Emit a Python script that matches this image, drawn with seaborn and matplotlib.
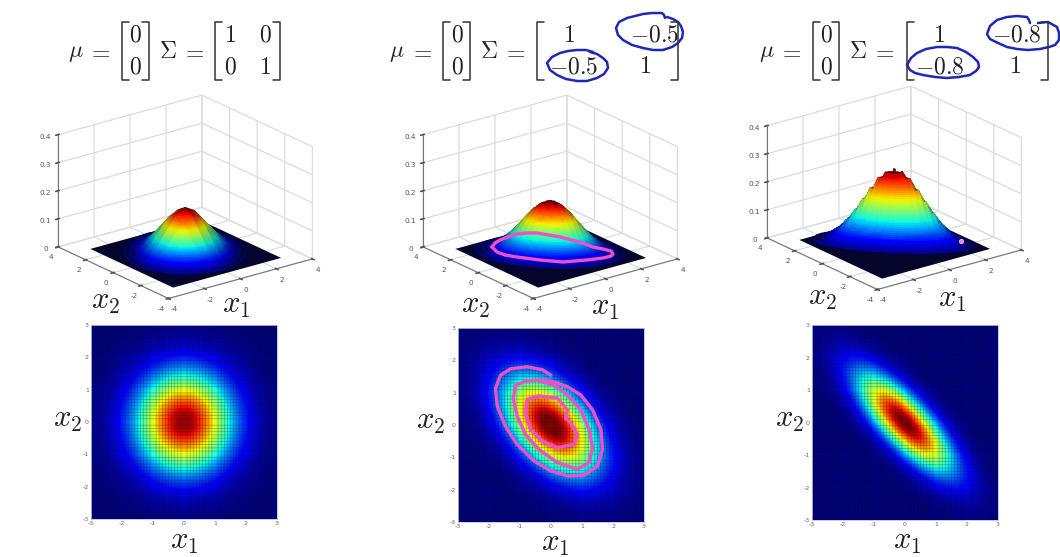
import numpy as np
import matplotlib
matplotlib.use("Agg")
import matplotlib.pyplot as plt
import seaborn as sns

W, H = 1060, 557

# density x 1000, read by eye, top row is x2 = 3, x1 runs from -3 to 3
density_a = [
    [0, 0, 0, 1, 1, 2, 2, 2, 1, 1, 0, 0, 0],
    [0, 0, 1, 2, 4, 6, 7, 6, 4, 2, 1, 0, 0],
    [0, 1, 3, 7, 13, 19, 22, 19, 13, 7, 3, 1, 0],
    [1, 2, 7, 17, 31, 46, 52, 46, 31, 17, 7, 2, 1],
    [1, 4, 13, 31, 59, 85, 96, 85, 59, 31, 13, 4, 1],
    [2, 6, 19, 46, 85, 124, 140, 124, 85, 46, 19, 6, 2],
    [2, 7, 22, 52, 96, 140, 159, 140, 96, 52, 22, 7, 2],
    [2, 6, 19, 46, 85, 124, 140, 124, 85, 46, 19, 6, 2],
    [1, 4, 13, 31, 59, 85, 96, 85, 59, 31, 13, 4, 1],
    [1, 2, 7, 17, 31, 46, 52, 46, 31, 17, 7, 2, 1],
    [0, 1, 3, 7, 13, 19, 22, 19, 13, 7, 3, 1, 0],
    [0, 0, 1, 2, 4, 6, 7, 6, 4, 2, 1, 0, 0],
    [0, 0, 0, 1, 1, 2, 2, 2, 1, 1, 0, 0, 0],
]
# the tilted panels need a tighter grid, top half down to the centre row
density_b_top = [
    [0, 1, 1, 1, 2, 2, 2, 2, 2, 1, 1, 1, 0, 0, 0, 0, 0, 0, 0, 0, 0, 0, 0, 0, 0],
    [1, 1, 2, 3, 3, 4, 4, 4, 4, 3, 3, 2, 1, 1, 0, 0, 0, 0, 0, 0, 0, 0, 0, 0, 0],
    [1, 2, 3, 4, 6, 7, 8, 8, 8, 7, 6, 4, 3, 2, 1, 1, 0, 0, 0, 0, 0, 0, 0, 0, 0],
    [1, 3, 4, 6, 9, 11, 13, 15, 15, 13, 11, 9, 6, 4, 3, 1, 1, 0, 0, 0, 0, 0, 0, 0, 0],
    [2, 3, 6, 9, 13, 17, 21, 24, 25, 24, 21, 17, 13, 9, 6, 3, 2, 1, 0, 0, 0, 0, 0, 0, 0],
    [2, 4, 7, 11, 17, 24, 31, 36, 39, 39, 36, 31, 24, 17, 11, 7, 4, 2, 1, 0, 0, 0, 0, 0, 0],
    [2, 4, 8, 13, 21, 31, 41, 51, 57, 60, 57, 51, 41, 31, 21, 13, 8, 4, 2, 1, 0, 0, 0, 0, 0],
    [2, 4, 8, 15, 24, 36, 51, 65, 77, 83, 83, 77, 65, 51, 36, 24, 15, 8, 4, 2, 1, 0, 0, 0, 0],
    [2, 4, 8, 15, 25, 39, 57, 77, 94, 107, 112, 107, 94, 77, 57, 39, 25, 15, 8, 4, 2, 1, 0, 0, 0],
    [1, 3, 7, 13, 24, 39, 60, 83, 107, 127, 138, 138, 127, 107, 83, 60, 39, 24, 13, 7, 3, 1, 1, 0, 0],
    [1, 3, 6, 11, 21, 36, 57, 83, 112, 138, 156, 162, 156, 138, 112, 83, 57, 36, 21, 11, 6, 3, 1, 0, 0],
    [1, 2, 4, 9, 17, 31, 51, 77, 107, 138, 162, 177, 177, 162, 138, 107, 77, 51, 31, 17, 9, 4, 2, 1, 0],
    [0, 1, 3, 6, 13, 24, 41, 65, 94, 127, 156, 177, 184, 177, 156, 127, 94, 65, 41, 24, 13, 6, 3, 1, 0],
]
density_c_top = [
    [2, 2, 3, 3, 2, 2, 1, 0, 0, 0, 0, 0, 0, 0, 0, 0, 0, 0, 0, 0, 0, 0, 0, 0, 0],
    [2, 4, 5, 6, 6, 5, 3, 2, 1, 0, 0, 0, 0, 0, 0, 0, 0, 0, 0, 0, 0, 0, 0, 0, 0],
    [3, 5, 8, 11, 12, 11, 8, 5, 3, 1, 0, 0, 0, 0, 0, 0, 0, 0, 0, 0, 0, 0, 0, 0, 0],
    [3, 6, 11, 16, 20, 21, 19, 14, 9, 5, 2, 1, 0, 0, 0, 0, 0, 0, 0, 0, 0, 0, 0, 0, 0],
    [2, 6, 12, 20, 28, 35, 35, 30, 22, 13, 7, 3, 1, 0, 0, 0, 0, 0, 0, 0, 0, 0, 0, 0, 0],
    [2, 5, 11, 21, 35, 48, 57, 56, 46, 32, 19, 9, 4, 1, 0, 0, 0, 0, 0, 0, 0, 0, 0, 0, 0],
    [1, 3, 8, 19, 35, 57, 76, 86, 81, 65, 44, 25, 12, 5, 2, 0, 0, 0, 0, 0, 0, 0, 0, 0, 0],
    [0, 2, 5, 14, 30, 56, 86, 111, 121, 111, 86, 56, 30, 14, 5, 2, 0, 0, 0, 0, 0, 0, 0, 0, 0],
    [0, 1, 3, 9, 22, 46, 81, 121, 151, 160, 142, 106, 66, 35, 15, 6, 2, 0, 0, 0, 0, 0, 0, 0, 0],
    [0, 0, 1, 5, 13, 32, 65, 111, 160, 194, 197, 169, 121, 73, 37, 16, 6, 2, 0, 0, 0, 0, 0, 0, 0],
    [0, 0, 0, 2, 7, 19, 44, 86, 142, 197, 230, 227, 187, 130, 76, 37, 15, 5, 2, 0, 0, 0, 0, 0, 0],
    [0, 0, 0, 1, 3, 9, 25, 56, 106, 169, 227, 256, 243, 194, 130, 73, 35, 14, 5, 1, 0, 0, 0, 0, 0],
    [0, 0, 0, 0, 1, 4, 12, 30, 66, 121, 187, 243, 265, 243, 187, 121, 66, 30, 12, 4, 1, 0, 0, 0, 0],
]

# pink strokes on the middle heatmap, in x1 / x2 units
pink_outer_x = [-0.01, -0.28, -0.77, -1.30, -1.63, -1.79, -1.73, -1.47, -1.09, -0.55, -0.01, 0.53, 1.07,
                1.50, 1.66, 1.61, 1.34, 0.96, 0.53, 0.10, -0.39]
pink_outer_y = [1.54, 1.71, 1.80, 1.74, 1.54, 1.13, 0.57, -0.04, -0.60, -1.11, -1.42, -1.57, -1.55,
                -1.27, -0.76, -0.14, 0.47, 0.93, 1.18, 1.34, 1.39]
pink_mid_x = [-0.39, -0.82, -1.14, -1.22, -1.09, -0.82, -0.39, 0.20, 0.85, 1.23, 1.34, 1.23, 0.96, 0.53, 0.10, -0.39]
pink_mid_y = [1.39, 1.36, 1.23, 0.83, 0.27, -0.30, -0.76, -1.16, -1.37, -1.16, -0.70, -0.14, 0.47, 0.93, 1.23, 1.37]
pink_in_x = [0.47, 0.53, 0.20, -0.39, -0.77, -0.82, -0.66, -0.28, 0.20, 0.74, 0.85, 0.64, 0.47]
pink_in_y = [0.21, 0.47, 0.83, 0.90, 0.78, 0.37, -0.14, -0.50, -0.70, -0.60, -0.30, 0.06, 0.21]

# hand drawn ink in picture pixels
ink_ring_x = [492, 495, 500, 508, 517, 527, 537, 549, 560, 571, 580, 593, 603, 611, 613, 611, 603, 587, 563, 540, 517, 505, 497, 492]
ink_ring_y = [247, 243, 240, 237, 234, 233, 233, 235, 237, 240, 242, 247, 249, 251, 254, 256, 258, 260, 262, 260, 257, 255, 252, 247]
blue_b1_x = [665, 664, 662, 652, 643, 627, 619, 616, 618, 623, 632, 643, 653, 663, 672, 678, 682, 683, 681, 678, 673, 667]
blue_b1_y = [18, 15, 13, 13, 14, 18, 22, 28, 35, 40, 45, 48, 50, 50, 47, 43, 38, 32, 26, 22, 19, 17]
blue_b2_x = [593, 586, 577, 568, 560, 552, 547, 550, 557, 566, 577, 587, 597, 604, 608, 607, 603, 597, 590]
blue_b2_y = [52, 50, 50, 51, 53, 57, 63, 70, 75, 79, 81, 81, 78, 74, 68, 62, 58, 54, 52]
blue_c1_x = [1030, 1029, 1027, 1017, 1007, 997, 990, 987, 990, 998, 1007, 1017, 1028, 1040, 1049, 1055, 1059, 1059, 1057, 1048, 1038]
blue_c1_y = [23, 20, 17, 16, 17, 20, 26, 34, 39, 43, 47, 49, 50, 49, 47, 45, 40, 33, 27, 22, 23]
blue_c2_x = [907, 911, 917, 926, 937, 947, 957, 966, 973, 978, 979, 976, 970, 959, 947, 935, 923, 915, 910, 907]
blue_c2_y = [65, 58, 53, 49, 47, 47, 48, 52, 57, 62, 67, 71, 75, 77, 78, 77, 75, 73, 70, 65]

sns.set_theme(style="white")
plt.rcParams["mathtext.fontset"] = "cm"
plt.rcParams["axes.unicode_minus"] = False

fig = plt.figure(figsize=(W / 100, H / 100), dpi=100, facecolor="white")


def px_rect(left, top, right, bottom):
    return [left / W, 1 - bottom / H, (right - left) / W, (bottom - top) / H]


def with_bottom_half(top_rows):
    # the picture is point symmetric about the centre
    return top_rows + [row[::-1] for row in top_rows[-2::-1]]


def draw_heatmap(table, rect):
    ax = fig.add_axes(px_rect(*rect))
    half = 3 / (len(table) - 1)
    ax.imshow(np.array(table), cmap="jet", vmin=0, vmax=np.max(table) * 0.94, origin="upper",
              extent=(-3 - half, 3 + half, -3 - half, 3 + half), interpolation="bicubic",
              interpolation_stage="data", aspect="auto")
    ax.set_xlim(-3, 3)
    ax.set_ylim(-3, 3)
    ticks = [-3, -2, -1, 0, 1, 2, 3]
    ax.set_xticks(ticks)
    ax.set_yticks(ticks)
    ax.tick_params(labelsize=4.5, colors="#666666", length=0, pad=1.5)
    # cell raster of the original
    ax.set_xticks(np.arange(-3, 3.01, 0.1), minor=True)
    ax.set_yticks(np.arange(-3, 3.01, 0.1), minor=True)
    ax.tick_params(which="minor", length=0)
    ax.grid(which="minor", color="black", lw=0.5, alpha=0.3, snap=False)
    for s in ax.spines.values():
        s.set_color("#b8c4d8")
        s.set_linewidth(0.6)
    return ax


def draw_surface(table, rect):
    ax = fig.add_axes(px_rect(*rect), projection="3d", computed_zorder=False)
    ax.patch.set_alpha(0)
    ax.set_proj_type("ortho")
    ax.view_init(elev=21, azim=-127.5)
    ax.set_box_aspect((1, 1, 0.663))
    axis_vals = np.linspace(-3, 3, len(table))
    xx, yy = np.meshgrid(axis_vals, axis_vals)
    zz = np.array(table)[::-1] / 1000
    peak = zz.max()
    fx, fy = np.meshgrid([-3, 3], [-3, 3])
    ax.plot_surface(fx, fy, np.zeros_like(fx), color="#04042c", shade=False, linewidth=0, zorder=1)
    # level ribbons, the library traces them through the table
    ax.contour(xx, yy, zz, levels=np.linspace(peak * 0.03, peak * 0.99, 40),
               cmap="jet", vmin=0, vmax=peak, extend3d=True, stride=1, zorder=2)
    ax.set_xlim(-4, 4)
    ax.set_ylim(-4, 4)
    ax.set_zlim(0, 0.4)
    ax.set_xticks([-4, -2, 0, 2, 4])
    ax.set_yticks([-4, -2, 0, 2, 4])
    ax.set_zticks([0, 0.1, 0.2, 0.3, 0.4])
    ax.set_zticklabels(["0", "0.1", "0.2", "0.3", "0.4"])
    ax.tick_params(labelsize=5.2, colors="#555555", pad=-3, length=2, width=0.5)
    for axis in (ax.xaxis, ax.yaxis, ax.zaxis):
        axis.set_pane_color((1, 1, 1, 0))
        axis.line.set_color("#777777")
        axis.line.set_linewidth(0.8)
        axis._axinfo["grid"]["color"] = "#dcdcdc"
        axis._axinfo["grid"]["linewidth"] = 0.9
    return ax


density_b = with_bottom_half(density_b_top)
density_c = with_bottom_half(density_c_top)

# panels left to right
draw_surface(density_a, (44, 63, 319, 338))
draw_surface(density_b, (409, 63, 684, 338))
draw_surface(density_c, (753, 54, 1028, 329))
draw_heatmap(density_a, (91, 325, 277, 519))
heat_b = draw_heatmap(density_b, (458, 328, 644, 522))
draw_heatmap(density_c, (812, 325, 998, 520))

pink = "#ee50cc"
blue = "#1c28b8"
for sx, sy in [(pink_outer_x, pink_outer_y), (pink_mid_x, pink_mid_y), (pink_in_x, pink_in_y)]:
    sns.lineplot(x=sx, y=sy, sort=False, estimator=None, color=pink, lw=2.4, ax=heat_b, legend=False)
heat_b.set_xlim(-3, 3)
heat_b.set_ylim(-3, 3)

# overlay in picture pixels for the formulas and the ink on top
over = fig.add_axes([0, 0, 1, 1], zorder=20)
over.axis("off")
over.patch.set_alpha(0)

sns.lineplot(x=ink_ring_x, y=ink_ring_y, sort=False, estimator=None, color=pink, lw=2.4, ax=over, legend=False)
for sx, sy in [(blue_b1_x, blue_b1_y), (blue_b2_x, blue_b2_y), (blue_c1_x, blue_c1_y), (blue_c2_x, blue_c2_y)]:
    sns.lineplot(x=sx, y=sy, sort=False, estimator=None, color=blue, lw=1.8, ax=over, legend=False)
over.scatter([961], [241], s=10, color="#f080d0", edgecolor="#f8d0e8", lw=0.5)
over.set_xlim(0, W)
over.set_ylim(H, 0)
over.set_xlabel("")
over.set_ylabel("")


def put(x, y, s, size=17):
    over.text(x, y, s, fontsize=size, ha="center", va="center", color="#222222", math_fontfamily="cm")


def bracket(x, direction, top=22, bottom=80, arm=7):
    over.plot([x + direction * arm, x, x, x + direction * arm], [top, top, bottom, bottom], color="#333333", lw=1.1)


def formula(mu_x, eq_x, lb_x, zero_x, rb_x, sig_x, eq2_x, blb_x, brb_x, cells):
    put(mu_x, 52, r"$\mu$")
    put(eq_x, 51, r"$=$")
    bracket(lb_x, 1)
    bracket(rb_x, -1)
    put(zero_x, 35, r"$0$")
    put(zero_x, 67, r"$0$")
    put(sig_x, 51, r"$\Sigma$")
    put(eq2_x, 51, r"$=$")
    bracket(blb_x, 1)
    bracket(brb_x, -1)
    for cx, cy, txt in cells:
        put(cx, cy, txt)


formula(76, 99, 122, 135, 149, 168, 193, 215, 280,
        [(230, 35, r"$1$"), (265, 35, r"$0$"), (230, 67, r"$0$"), (265, 67, r"$1$")])
formula(397, 421, 443, 457, 470, 489, 514, 537, 678,
        [(569, 35, r"$1$"), (655, 35, r"$-0.5$"), (574, 66, r"$-0.5$"), (645, 66, r"$1$")])
formula(767, 790, 813, 826, 839, 858, 883, 907, 1048,
        [(939, 35, r"$1$"), (1017, 35, r"$-0.8$"), (940, 66, r"$-0.8$"), (1015, 66, r"$1$")])

for lx, ly, s in [(106, 302, r"$x_2$"), (236, 305, r"$x_1$"), (476, 305, r"$x_2$"), (605, 308, r"$x_1$"),
                  (823, 298, r"$x_2$"), (952, 300, r"$x_1$"), (68, 420, r"$x_2$"), (184, 541, r"$x_1$"),
                  (431, 422, r"$x_2$"), (555, 544, r"$x_1$"), (790, 420, r"$x_2$"), (907, 541, r"$x_1$")]:
    put(lx, ly, s, size=22)

fig.savefig("out.png", dpi=100)
